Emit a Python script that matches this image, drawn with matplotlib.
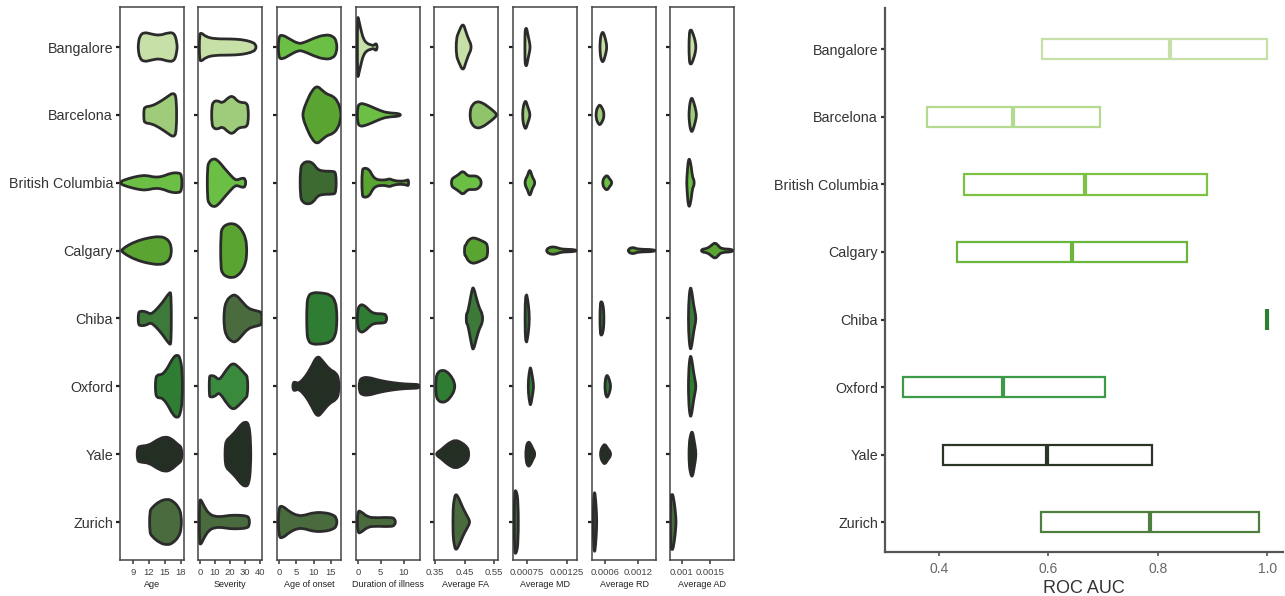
import numpy as np
import matplotlib.pyplot as plt
from matplotlib.path import Path
from matplotlib.patches import PathPatch

plt.rcParams['font.family'] = ['Liberation Sans', 'DejaVu Sans']

sites = ["Bangalore", "Barcelona", "British Columbia", "Calgary", "Chiba", "Oxford", "Yale", "Zurich"]

# ROC AUC summary per site (box = q1..q3, line = median)
roc_q1 = [0.588, 0.378, 0.446, 0.433, 1.0, 0.334, 0.408, 0.587]
roc_median = [0.823, 0.535, 0.667, 0.643, 1.0, 0.517, 0.598, 0.785]
roc_q3 = [1.0, 0.694, 0.890, 0.853, 1.0, 0.704, 0.790, 0.986]

panel_labels = ["Age", "Severity", "Age of onset", "Duration of illness",
                "Average FA", "Average MD", "Average RD", "Average AD"]
panel_ticks = [[9, 12, 15, 18], [0, 10, 20, 30, 40], [0, 5, 10, 15], [0, 5, 10],
               [0.35, 0.45, 0.55], [0.00075, 0.00125], [0.0006, 0.0012], [0.001, 0.0015]]
panel_ticklabels = [["9", "12", "15", "18"], ["0", "10", "20", "30", "40"], ["0", "5", "10", "15"],
                    ["0", "5", "10"], ["0.35", "0.45", "0.55"], ["0.00075", "0.00125"],
                    ["0.0006", "0.0012"], ["0.001", "0.0015"]]

# violin outlines: (values, half widths in row units)
age = {
    "Bangalore": ([9.95, 10.2, 11.0, 12.5, 14.0, 15.5, 16.8, 17.3], [0.04, 0.16, 0.22, 0.19, 0.17, 0.21, 0.21, 0.05]),
    "Barcelona": ([11.0, 11.2, 12.5, 14.0, 15.5, 16.6, 17.2], [0.07, 0.12, 0.13, 0.19, 0.27, 0.33, 0.26]),
    "British Columbia": ([6.6, 8.0, 10.0, 11.5, 13.0, 14.5, 16.0, 17.5, 18.2], [0.02, 0.06, 0.1, 0.11, 0.08, 0.09, 0.14, 0.15, 0.12]),
    "Calgary": ([6.8, 8.0, 10.0, 12.0, 14.0, 15.3, 16.0, 16.2], [0.01, 0.08, 0.15, 0.19, 0.21, 0.18, 0.11, 0.03]),
    "Chiba": ([9.95, 10.3, 11.5, 12.2, 13.0, 14.5, 15.8, 16.2], [0.08, 0.11, 0.1, 0.06, 0.1, 0.23, 0.38, 0.38]),
    "Oxford": ([13.2, 13.5, 14.3, 14.8, 15.5, 16.5, 17.3, 17.9, 18.3], [0.1, 0.17, 0.17, 0.2, 0.27, 0.42, 0.47, 0.42, 0.2]),
    "Yale": ([9.75, 10.5, 12.0, 13.5, 15.0, 16.2, 17.3, 18.2], [0.1, 0.12, 0.13, 0.21, 0.26, 0.23, 0.15, 0.1]),
    "Zurich": ([12.1, 12.5, 14.0, 15.5, 16.5, 17.6, 18.1], [0.15, 0.21, 0.31, 0.34, 0.31, 0.22, 0.1]),
}
severity = {
    "Bangalore": ([-0.4, 1.0, 4.0, 10.0, 20.0, 28.0, 34.0, 37.3], [0.19, 0.21, 0.15, 0.12, 0.12, 0.11, 0.08, 0.04]),
    "Barcelona": ([7.8, 9.0, 12.0, 15.0, 19.0, 22.0, 25.0, 28.0, 31.0, 32.2], [0.12, 0.2, 0.21, 0.17, 0.26, 0.28, 0.2, 0.18, 0.18, 0.1]),
    "British Columbia": ([4.9, 6.0, 9.0, 12.0, 16.0, 20.0, 23.0, 25.0, 28.0, 30.4], [0.22, 0.31, 0.36, 0.33, 0.22, 0.12, 0.05, 0.04, 0.07, 0.06]),
    "Calgary": ([13.8, 15.0, 18.0, 22.0, 25.0, 28.0, 30.5, 31.1], [0.25, 0.34, 0.39, 0.4, 0.37, 0.3, 0.18, 0.05]),
    "Chiba": ([16.0, 17.5, 21.0, 24.0, 28.0, 32.0, 36.0, 40.0, 41.3], [0.12, 0.26, 0.34, 0.35, 0.25, 0.15, 0.12, 0.1, 0.08]),
    "Oxford": ([6.2, 7.0, 10.0, 12.0, 14.0, 18.0, 22.0, 26.0, 30.0, 31.8], [0.14, 0.16, 0.15, 0.1, 0.12, 0.26, 0.35, 0.28, 0.18, 0.14]),
    "Yale": ([16.7, 17.5, 20.0, 24.0, 27.0, 30.0, 32.5, 33.8], [0.1, 0.2, 0.25, 0.34, 0.43, 0.48, 0.45, 0.2]),
    "Zurich": ([-0.4, 0.5, 3.0, 6.0, 10.0, 15.0, 20.0, 26.0, 31.0, 32.9], [0.3, 0.34, 0.22, 0.12, 0.08, 0.08, 0.1, 0.1, 0.09, 0.06]),
}
onset = {
    "Bangalore": ([-0.2, 1.0, 3.0, 5.5, 7.0, 10.0, 13.0, 15.5, 16.7], [0.16, 0.18, 0.12, 0.05, 0.06, 0.13, 0.18, 0.17, 0.08]),
    "Barcelona": ([6.9, 8.0, 9.5, 11.0, 12.5, 14.0, 15.5, 17.0, 17.9], [0.05, 0.2, 0.36, 0.43, 0.36, 0.3, 0.28, 0.2, 0.05]),
    "British Columbia": ([6.1, 6.8, 8.5, 10.0, 11.0, 12.5, 15.5, 16.5], [0.2, 0.29, 0.32, 0.28, 0.2, 0.17, 0.17, 0.15]),
    "Chiba": ([8.0, 8.4, 9.5, 12.0, 15.0, 16.3, 16.7], [0.2, 0.33, 0.38, 0.38, 0.35, 0.25, 0.1]),
    "Oxford": ([4.0, 4.8, 5.5, 7.0, 9.0, 11.0, 12.5, 14.5, 16.5, 17.3], [0.06, 0.06, 0.04, 0.1, 0.25, 0.46, 0.38, 0.25, 0.2, 0.1]),
    "Zurich": ([-0.2, 1.0, 3.0, 5.5, 7.5, 10.0, 13.0, 15.5, 16.7], [0.22, 0.24, 0.15, 0.09, 0.1, 0.14, 0.14, 0.11, 0.06]),
}
duration = {
    "Bangalore": ([-0.1, 0.2, 0.7, 1.2, 2.0, 3.0, 3.5, 3.8, 4.2], [0.47, 0.4, 0.25, 0.12, 0.05, 0.03, 0.02, 0.05, 0.04]),
    "Barcelona": ([-0.1, 0.5, 1.5, 3.0, 5.0, 6.5, 9.3], [0.12, 0.17, 0.16, 0.12, 0.06, 0.03, 0.02]),
    "British Columbia": ([0.9, 1.3, 2.5, 3.2, 4.0, 5.0, 6.0, 7.0, 7.5, 9.0, 10.6, 11.1], [0.18, 0.22, 0.2, 0.1, 0.05, 0.04, 0.04, 0.06, 0.04, 0.02, 0.03, 0.05]),
    "Chiba": ([-0.1, 0.5, 1.5, 2.5, 3.5, 5.5, 6.3], [0.12, 0.21, 0.19, 0.12, 0.07, 0.07, 0.05]),
    "Oxford": ([0.3, 1.0, 2.5, 4.0, 6.0, 8.0, 10.0, 12.0, 13.5], [0.08, 0.13, 0.13, 0.1, 0.07, 0.05, 0.035, 0.03, 0.025]),
    "Zurich": ([-0.1, 0.8, 2.0, 3.5, 7.0, 8.2], [0.17, 0.15, 0.08, 0.06, 0.07, 0.05]),
}
fa = {
    "Bangalore": ([0.422, 0.43, 0.445, 0.455, 0.465, 0.472], [0.12, 0.22, 0.36, 0.22, 0.1, 0.04]),
    "Barcelona": ([0.469, 0.475, 0.49, 0.51, 0.53, 0.55, 0.558], [0.06, 0.14, 0.2, 0.18, 0.12, 0.05, 0.01]),
    "British Columbia": ([0.406, 0.415, 0.43, 0.445, 0.46, 0.475, 0.49, 0.5, 0.506], [0.05, 0.08, 0.12, 0.18, 0.1, 0.1, 0.1, 0.07, 0.03]),
    "Calgary": ([0.45, 0.455, 0.46, 0.475, 0.49, 0.505, 0.52, 0.528], [0.07, 0.08, 0.14, 0.19, 0.18, 0.15, 0.12, 0.08]),
    "Chiba": ([0.456, 0.46, 0.466, 0.475, 0.48, 0.49, 0.5, 0.511], [0.07, 0.08, 0.2, 0.42, 0.47, 0.3, 0.15, 0.06]),
    "Oxford": ([0.353, 0.36, 0.375, 0.39, 0.405, 0.417], [0.12, 0.21, 0.24, 0.22, 0.15, 0.05]),
    "Yale": ([0.356, 0.37, 0.385, 0.4, 0.42, 0.44, 0.455, 0.464], [0.02, 0.06, 0.12, 0.17, 0.21, 0.17, 0.12, 0.06]),
    "Zurich": ([0.411, 0.415, 0.42, 0.43, 0.445, 0.46, 0.467], [0.2, 0.33, 0.42, 0.36, 0.2, 0.08, 0.02]),
}
md = {
    "Bangalore": ([0.000728, 0.000735, 0.00075, 0.000765, 0.000792], [0.2, 0.27, 0.28, 0.18, 0.04]),
    "Barcelona": ([0.0007, 0.00072, 0.00074, 0.00076, 0.00079], [0.08, 0.18, 0.21, 0.13, 0.03]),
    "British Columbia": ([0.00073, 0.00076, 0.00079, 0.00082, 0.00085], [0.04, 0.1, 0.21, 0.08, 0.03]),
    "Calgary": ([0.001, 0.00104, 0.00109, 0.00114, 0.00119, 0.00137], [0.02, 0.05, 0.056, 0.04, 0.02, 0.015]),
    "Chiba": ([0.00073, 0.000745, 0.00076, 0.000782], [0.25, 0.37, 0.3, 0.1]),
    "Oxford": ([0.00077, 0.00079, 0.0008, 0.00082, 0.000835], [0.1, 0.26, 0.28, 0.15, 0.04]),
    "Yale": ([0.00074, 0.00077, 0.0008, 0.00083, 0.00085], [0.1, 0.19, 0.15, 0.07, 0.03]),
    "Zurich": ([0.000595, 0.00062, 0.000645], [0.45, 0.47, 0.3]),
}
rd = {
    "Bangalore": ([0.00051, 0.00054, 0.00057, 0.0006, 0.00063], [0.1, 0.21, 0.22, 0.14, 0.04]),
    "Barcelona": ([0.00044, 0.00048, 0.00051, 0.00055, 0.00058], [0.06, 0.13, 0.15, 0.1, 0.04]),
    "British Columbia": ([0.00056, 0.0006, 0.00064, 0.00068, 0.00072], [0.04, 0.09, 0.11, 0.06, 0.02]),
    "Calgary": ([0.00102, 0.00108, 0.00114, 0.00119, 0.0015], [0.02, 0.046, 0.04, 0.02, 0.015]),
    "Chiba": ([0.00051, 0.00054, 0.00057, 0.00058], [0.22, 0.26, 0.18, 0.06]),
    "Oxford": ([0.0006, 0.00063, 0.00066, 0.0007], [0.08, 0.17, 0.14, 0.04]),
    "Yale": ([0.00052, 0.00056, 0.0006, 0.00065, 0.0007], [0.05, 0.12, 0.15, 0.08, 0.03]),
    "Zurich": ([0.00039, 0.00041, 0.00043, 0.00045], [0.25, 0.47, 0.35, 0.1]),
}
ad = {
    "Bangalore": ([0.00113, 0.00116, 0.0012, 0.00125], [0.2, 0.27, 0.2, 0.06]),
    "Barcelona": ([0.00113, 0.00117, 0.00121, 0.00126], [0.1, 0.27, 0.2, 0.04]),
    "British Columbia": ([0.00109, 0.00112, 0.00116, 0.00119, 0.00122], [0.06, 0.38, 0.3, 0.08, 0.04]),
    "Calgary": ([0.00135, 0.00145, 0.00153, 0.00159, 0.00165, 0.0017, 0.0019], [0.02, 0.03, 0.08, 0.12, 0.07, 0.025, 0.02]),
    "Chiba": ([0.00112, 0.00115, 0.00118, 0.00121, 0.00125], [0.2, 0.48, 0.4, 0.2, 0.04]),
    "Oxford": ([0.00112, 0.00115, 0.00118, 0.00121, 0.00125], [0.2, 0.47, 0.4, 0.2, 0.04]),
    "Yale": ([0.00113, 0.00116, 0.00119, 0.00122, 0.00125], [0.15, 0.3, 0.34, 0.2, 0.05]),
    "Zurich": ([0.0008, 0.00083, 0.00087, 0.0009], [0.3, 0.45, 0.3, 0.06]),
}
panels = [age, severity, onset, duration, fa, md, rd, ad]

# styling
site_fill = ["#c6e0a8", "#9fcc7a", "#6cbf45", "#5aa532", "#3d7a3a", "#2e7d32", "#232f22", "#4a6b3e"]
fill_override = {(0, 2): "#6cbf45", (1, 2): "#5aa532", (1, 3): "#6cbf45", (1, 4): "#8fc46a",
                 (2, 2): "#3c6a30", (2, 3): "#5aa532", (4, 1): "#4a6b3e", (4, 2): "#2e7d32",
                 (4, 3): "#2e7d32", (5, 1): "#3a8a3e", (5, 2): "#232f22", (5, 3): "#232f22"}
box_colors = ["#c6e0a8", "#b3da8e", "#7dc242", "#6ab53a", "#2e7d32", "#3c9a48", "#2a3526", "#4f7f3f"]
xlims = [(6.5, 18.6), (-1.3, 41.3), (-0.6, 17.9), (-0.4, 13.6), (0.347, 0.563),
         (0.000579, 0.001379), (0.000366, 0.001518), (0.000794, 0.001924)]
panel_left = [120, 198, 277, 356, 434, 513, 592, 670]

W, H = 1285, 596
fig = plt.figure(figsize=(W / 100, H / 100), dpi=100)


def px_axes(x0, y0, x1, y1):
    return fig.add_axes([x0 / W, 1 - y1 / H, (x1 - x0) / W, (y1 - y0) / H])


def violin(ax, row, vals, hw, color):
    v = np.asarray(vals, float)
    h = np.asarray(hw, float)
    pts = np.column_stack([np.concatenate([v, v[::-1]]),
                           np.concatenate([row + h, (row - h)[::-1]])])
    mids = (pts + np.roll(pts, -1, axis=0)) / 2
    verts = [mids[-1]]
    codes = [Path.MOVETO]
    for k in range(len(pts)):
        verts += [pts[k], mids[k]]
        codes += [Path.CURVE3, Path.CURVE3]
    verts.append(mids[-1])
    codes.append(Path.CLOSEPOLY)
    ax.add_patch(PathPatch(Path(verts, codes), facecolor=color, edgecolor="#2b2b2b",
                           lw=2, joinstyle="round", zorder=3))


for i, prof in enumerate(panels):
    ax = px_axes(panel_left[i], 7, panel_left[i] + 64, 560)
    ax.set_xlim(*xlims[i])
    ax.set_ylim(7.56, -0.59)
    for r, site in enumerate(sites):
        if site in prof:
            vals, hw = prof[site]
            violin(ax, r, vals, hw, fill_override.get((r, i), site_fill[r]))
    ax.set_yticks(range(len(sites)))
    if i == 0:
        ax.set_yticklabels(sites, fontsize=10.3, color="#333333")
    else:
        ax.set_yticklabels([])
    ax.set_xticks(panel_ticks[i])
    ax.set_xticklabels(panel_ticklabels[i], fontsize=6.8, color="#444444")
    ax.set_xlabel(panel_labels[i], fontsize=6.5, color="#222222", labelpad=2)
    ax.tick_params(axis="y", length=3, width=1.6, pad=2, color="#222222")
    ax.tick_params(axis="x", length=3, width=1.2, pad=3, color="#444444")
    for sp in ax.spines.values():
        sp.set_color("#444444")
        sp.set_linewidth(1.1)

# ROC AUC panel
axr = px_axes(885, 8, 1283, 552)
rows = np.arange(len(sites))
axr.barh(rows, np.array(roc_q3) - np.array(roc_q1), left=roc_q1, height=0.3,
         facecolor="white", edgecolor=box_colors, lw=1.6, zorder=2)
axr.vlines(roc_median, rows - 0.15, rows + 0.15, colors=box_colors, lw=3, zorder=3)
axr.set_xlim(0.301, 1.029)
axr.set_ylim(7.44, -0.61)
axr.set_yticks(rows)
axr.set_yticklabels(sites, fontsize=10.3, color="#333333")
axr.set_xticks([0.4, 0.6, 0.8, 1.0])
axr.set_xticklabels(["0.4", "0.6", "0.8", "1.0"], fontsize=10, color="#666666")
axr.set_xlabel("ROC AUC", fontsize=13, color="#333333", labelpad=3)
axr.tick_params(axis="y", length=3, width=1.6, pad=2, color="#333333")
axr.tick_params(axis="x", length=3, width=1.2, pad=4, color="#555555")
for side in ["top", "right"]:
    axr.spines[side].set_visible(False)
for side in ["left", "bottom"]:
    axr.spines[side].set_color("#555555")
    axr.spines[side].set_linewidth(1.6)

fig.savefig("out.png", dpi=100)
